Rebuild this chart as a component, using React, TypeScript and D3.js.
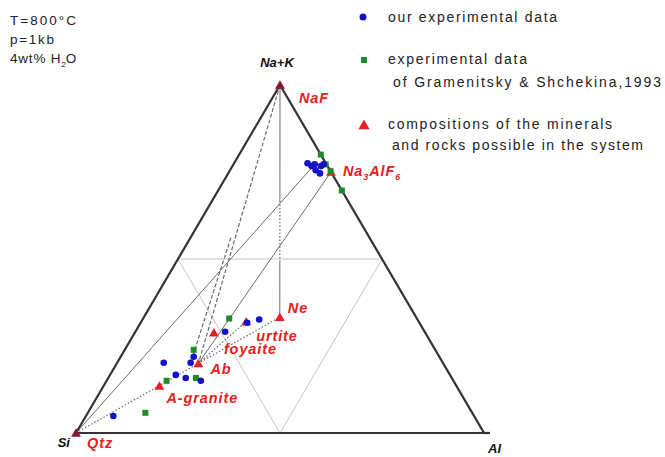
import { scaleLinear, symbol, symbolTriangle, symbolSquare } from "d3";

// compositions as [Na+K, Al] in %, Si is the rest
const ourData: [number, number][] = [
  [77.2, 19.9], [77.5, 18], [76.7, 19.4], [75.5, 21], [74.6, 22.5], [76.7, 21.7], [77.2, 22.1],
  [4.9, 6.7], [20.2, 11.4], [16.7, 16.1], [15.8, 19], [20.2, 18], [21.9, 17.9], [15, 23.1],
  [29.1, 22], [31.7, 26.1], [32.6, 28.6],
];

const gramenitskyData: [number, number][] = [
  [80, 20], [77.2, 22.6], [75.2, 24.8], [69.7, 30.3],
  [32.9, 21.1], [23.9, 16.9], [15.8, 21.5], [15, 14.7], [5.8, 14.1],
];

const mineralNames = ["NaF", "Na3AlF6", "Ne", "urtite", "foyaite", "Ab", "A-granite", "Qtz"];
const mineralComps: [number, number][] = [
  [100, 0], [75, 25], [33.3, 33.3], [32, 25.7], [28.8, 19.4], [20, 20], [13.5, 13.7], [0, 0],
];

const legendLabels = [
  ["our experimental data"],
  ["experimental data", "of Gramenitsky & Shchekina,1993"],
  ["compositions of the minerals", "and rocks possible in the system"],
];

const conditions = ["T=800°C", "p=1kb", "4wt% H2O"];

const W = 665;
const H = 457;

const xScale = scaleLinear().domain([0, 1]).range([76, 484]);
const yScale = scaleLinear().domain([0, 1]).range([433, 85]);

const proj = ([nak, al]: [number, number]): [number, number] => [
  xScale((al + nak / 2) / 100),
  yScale(nak / 100),
];

const comp = (name: string) => mineralComps[mineralNames.indexOf(name)];

const lerp = (a: [number, number], b: [number, number], t: number): [number, number] => [
  a[0] + (b[0] - a[0]) * t,
  a[1] + (b[1] - a[1]) * t,
];

type Part = [number, number, string];
const tieLines: { from: [number, number]; to: [number, number]; parts: Part[] }[] = [
  { from: comp("NaF"), to: comp("Ne"), parts: [[0, 0.5, "solid"], [0.5, 0.76, "dot"], [0.76, 1, "solid"]] },
  { from: comp("NaF"), to: comp("Ab"), parts: [[0, 1, "dash"]] },
  { from: comp("NaF"), to: ourData[11], parts: [[0.55, 1, "dash"]] },
  { from: ourData[0], to: comp("Qtz"), parts: [[0, 1, "solid"]] },
  { from: comp("Na3AlF6"), to: comp("Ab"), parts: [[0, 1, "solid"]] },
  { from: comp("Qtz"), to: comp("Ne"), parts: [[0, 1, "dot"]] },
  { from: comp("Ab"), to: comp("urtite"), parts: [[0, 1, "dot"]] },
];

const dashes: Record<string, string | undefined> = {
  solid: undefined,
  dash: "4,2",
  dot: "1.5,2",
};

const labelOffsets: Record<string, [number, number]> = {
  NaF: [19, 18],
  Na3AlF6: [12, 4],
  Ne: [8, -4],
  urtite: [10, 19],
  foyaite: [10, 21],
  Ab: [12, 11],
  "A-granite": [7, 17],
  Qtz: [11, 15],
};

const BLUE = "#1212c8";
const GREEN = "#1f8a2a";
const RED = "#e62020";
const DARKRED = "#8a1530";
const FONT = "'Liberation Sans', Arial, sans-serif";

const triPath = symbol(symbolTriangle, 42)()!;
const sqPath = symbol(symbolSquare, 36)()!;

function MineralLabel({ name, x, y }: { name: string; x: number; y: number }) {
  const common = {
    x,
    y,
    fill: RED,
    fontFamily: FONT,
    fontSize: 14.5,
    fontWeight: "bold" as const,
    fontStyle: "italic" as const,
    letterSpacing: 0.9,
  };
  if (name === "Na3AlF6") {
    return (
      <text {...common}>
        Na<tspan fontSize={9} dy={4}>3</tspan>
        <tspan dy={-4}>AlF</tspan>
        <tspan fontSize={9} dy={4}>6</tspan>
      </text>
    );
  }
  return <text {...common}>{name}</text>;
}

export default function App() {
  const [si, top, al] = [proj([0, 0]), proj([100, 0]), proj([0, 100])];
  const inner = [proj([50, 0]), proj([50, 50]), proj([0, 50])];

  return (
    <svg
      width={W}
      height={H}
      viewBox={`0 0 ${W} ${H}`}
      style={{ position: "fixed", left: 0, top: 0, background: "#fff" }}
    >
      {/* inner grid triangle */}
      <polygon
        points={inner.map((p) => p.join(",")).join(" ")}
        fill="none"
        stroke="#c4c4c4"
        strokeWidth={1}
      />

      {/* tie lines */}
      {tieLines.map((l, i) =>
        l.parts.map(([t0, t1, style], j) => {
          const a = proj(lerp(l.from, l.to, t0));
          const b = proj(lerp(l.from, l.to, t1));
          return (
            <line
              key={`${i}-${j}`}
              x1={a[0]}
              y1={a[1]}
              x2={b[0]}
              y2={b[1]}
              stroke="#6a6a6a"
              strokeWidth={style === "solid" ? 1 : 1.2}
              strokeDasharray={dashes[style]}
            />
          );
        })
      )}

      {/* outer triangle */}
      <path
        d={`M${si[0]},${si[1]}L${top[0]},${top[1]}L${al[0]},${al[1]}Z`}
        fill="none"
        stroke="#333"
        strokeWidth={2.2}
      />
      <line x1={al[0]} y1={al[1]} x2={al[0] + 6} y2={al[1]} stroke="#333" strokeWidth={2.2} />

      {/* minerals */}
      {mineralComps.map((c, i) => {
        const [x, y] = proj(c);
        const dark = mineralNames[i] === "NaF" || mineralNames[i] === "Qtz";
        return (
          <path key={`m${i}`} d={triPath} transform={`translate(${x},${y + 1})`} fill={dark ? DARKRED : RED} />
        );
      })}

      {/* Gramenitsky & Shchekina */}
      {gramenitskyData.map((c, i) => {
        const [x, y] = proj(c);
        return <path key={`g${i}`} d={sqPath} transform={`translate(${x},${y})`} fill={GREEN} />;
      })}

      {/* our data */}
      {ourData.map((c, i) => {
        const [x, y] = proj(c);
        return <circle key={`b${i}`} cx={x} cy={y} r={3.3} fill={BLUE} />;
      })}

      {/* mineral labels */}
      {mineralNames.map((n, i) => {
        const [x, y] = proj(mineralComps[i]);
        const [dx, dy] = labelOffsets[n];
        return <MineralLabel key={`l${i}`} name={n} x={x + dx} y={y + dy} />;
      })}

      {/* vertex labels */}
      <g fontFamily={FONT} fontWeight="bold" fontStyle="italic" fontSize={13} fill="#111">
        <text x={top[0] - 3} y={67} textAnchor="middle">Na+K</text>
        <text x={si[0] - 6} y={447} textAnchor="end">Si</text>
        <text x={al[0] + 4} y={453}>Al</text>
      </g>

      {/* conditions */}
      <g fontFamily={FONT} fontSize={13.5} fill="#222">
        <text x={10} y={25} textLength={66} lengthAdjust="spacing">
          {conditions[0]}
        </text>
        <text x={10} y={44} textLength={44} lengthAdjust="spacing">
          {conditions[1]}
        </text>
        <text x={10} y={63}>
          <tspan letterSpacing={0.8}>4wt% H</tspan>
          <tspan fontSize={8} dy={4}>2</tspan>
          <tspan dy={-4}>O</tspan>
        </text>
      </g>

      {/* legend */}
      <circle cx={363} cy={17} r={3.5} fill={BLUE} />
      <path d={sqPath} transform="translate(364,60)" fill={GREEN} />
      <path d={symbol(symbolTriangle, 55)()!} transform="translate(364,126)" fill={RED} />
      <g fontFamily={FONT} fontSize={14} fill="#222">
        <text x={388} y={22} textLength={169} lengthAdjust="spacing">{legendLabels[0][0]}</text>
        <text x={388} y={64} textLength={139} lengthAdjust="spacing">{legendLabels[1][0]}</text>
        <text x={393} y={87} textLength={268} lengthAdjust="spacing">{legendLabels[1][1]}</text>
        <text x={388} y={129} textLength={224} lengthAdjust="spacing">{legendLabels[2][0]}</text>
        <text x={392} y={150} textLength={251} lengthAdjust="spacing">{legendLabels[2][1]}</text>
      </g>
    </svg>
  );
}
